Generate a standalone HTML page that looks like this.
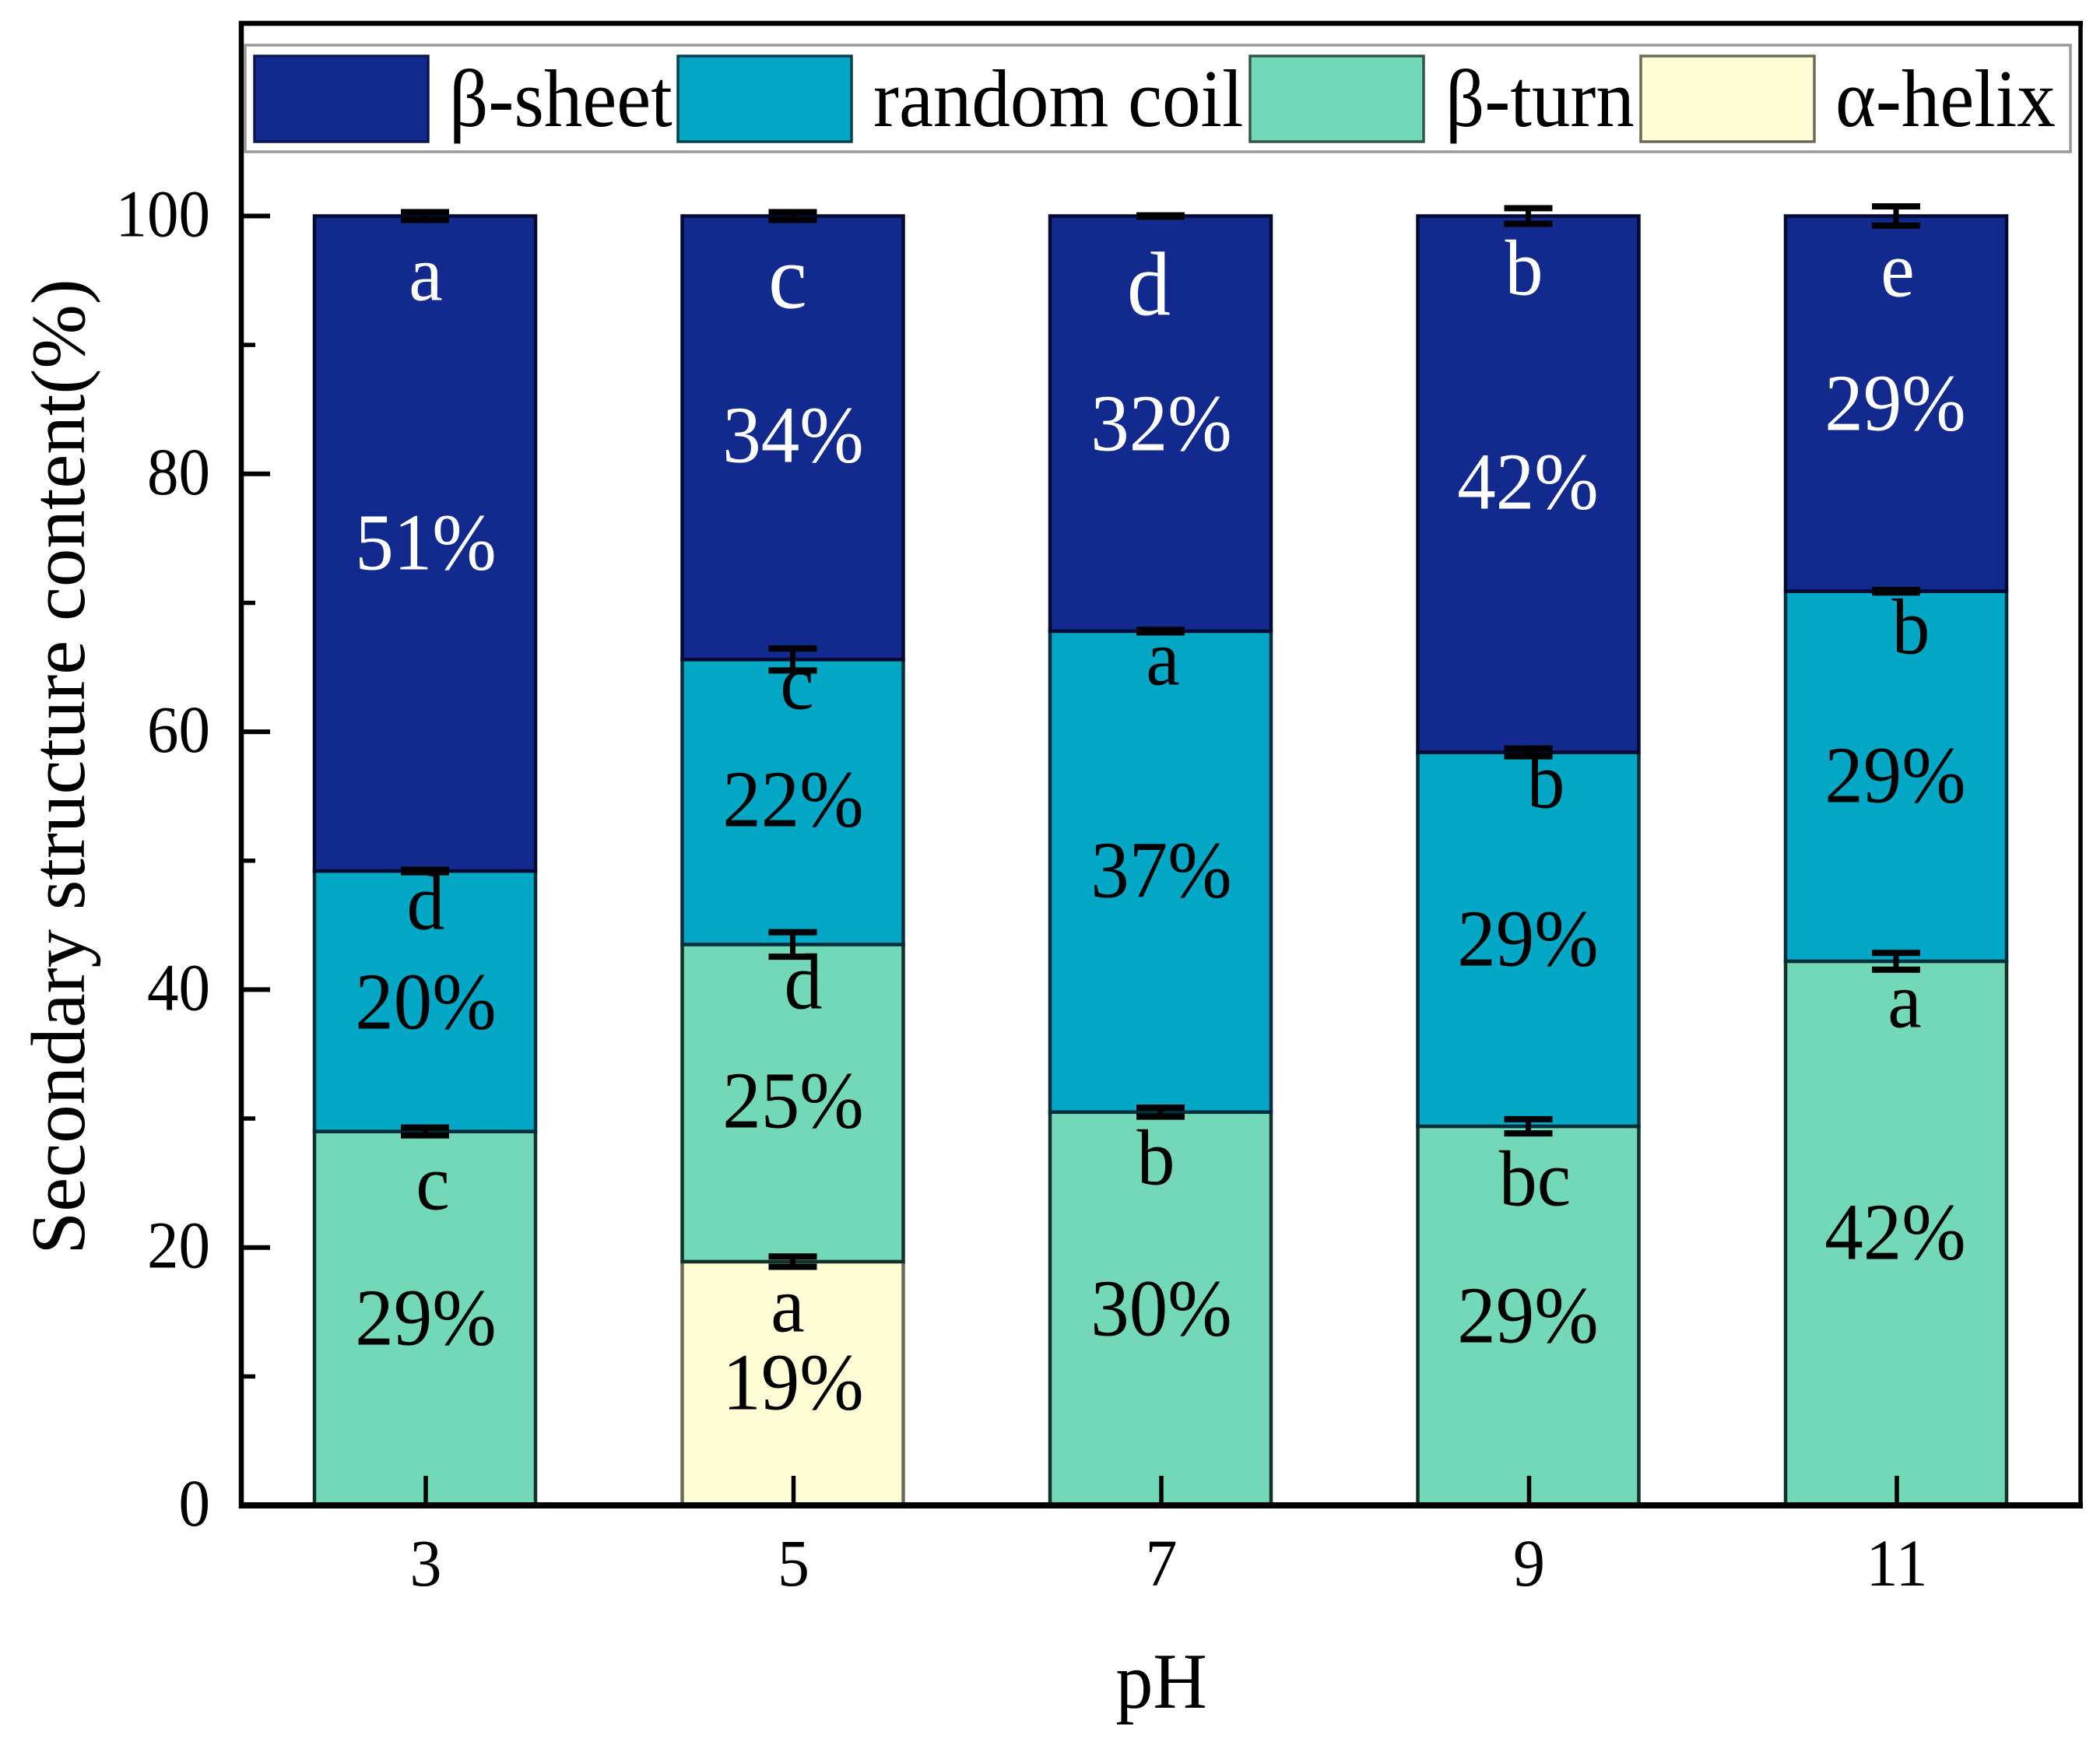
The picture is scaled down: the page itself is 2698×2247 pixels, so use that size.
<!DOCTYPE html>
<html lang="en">
<head>
<meta charset="utf-8">
<title>Secondary structure content by pH</title>
<style>
html,body{margin:0;padding:0;background:#fff;}
svg{display:block;}
text{font-family:"Liberation Serif",serif;fill:#000;}
.pct{font-size:99px;text-anchor:middle;transform-box:fill-box;transform-origin:center;transform:translateY(-5px) scaleY(1.05);}
.let{font-size:98px;text-anchor:middle;transform-box:fill-box;transform-origin:center;transform:translateY(-3px) scaleY(1.04);}
.white{fill:#fff;}
.leg{font-size:99px;}
</style>
</head>
<body>
<svg id="chart" xmlns="http://www.w3.org/2000/svg" width="2698" height="2247" viewBox="0 0 2698 2247">
  <rect x="0" y="0" width="2698" height="2247" fill="#fff"/>
  <g id="bars"></g>
  <g id="ticks"></g>
  <g id="errors"></g>

  <g stroke="#000">
    <line x1="307" x2="2676" y1="30" y2="30" stroke-width="6.5"/>
    <line x1="2673" x2="2673" y1="27" y2="1938" stroke-width="5.5"/>
    <line x1="310" x2="310" y1="27" y2="1938" stroke-width="6.5"/>
    <line x1="307" x2="2676" y1="1934" y2="1934" stroke-width="8"/>
  </g>

  <g>
    <rect x="315" y="58" width="2345" height="137" fill="#fff" stroke="#999" stroke-width="3.5"/>
    <g>
      <text class="leg" transform="translate(577,162) scale(1,1.06)">β-sheet</text>
      <rect x="327" y="72" width="223" height="110" fill="#122a8e" stroke="#0a1a50" stroke-width="3.5"/>
    </g>
    <g>
      <text class="leg" transform="translate(1122,162) scale(1,1.06)">random coil</text>
      <rect x="871" y="72" width="223" height="110" fill="#02a7c6" stroke="#04404e" stroke-width="3.5"/>
    </g>
    <g>
      <text class="leg" transform="translate(1857,162) scale(1,1.06)">β-turn</text>
      <rect x="1606" y="72" width="223" height="110" fill="#72d8b8" stroke="#34544a" stroke-width="3.5"/>
    </g>
    <g>
      <text class="leg" transform="translate(2358,162) scale(1,1.06)">α-helix</text>
      <rect x="2108" y="72" width="223" height="110" fill="#fefdd6" stroke="#6b6b58" stroke-width="3.5"/>
    </g>
  </g>

  <g id="tick-labels"></g>

  <text font-size="99" text-anchor="middle" transform="translate(108,985) rotate(-90)">Secondary structure content(%)</text>
  <text font-size="96" text-anchor="middle" transform="translate(1492,2194) scale(1,1.06)">pH</text>

  <g>
    <text class="pct white" x="547" y="735">51%</text>
    <text class="pct" x="547" y="1325">20%</text>
    <text class="pct" x="547" y="1731">29%</text>
    <text class="pct white" x="1019" y="597">34%</text>
    <text class="pct" x="1019" y="1065">22%</text>
    <text class="pct" x="1019" y="1452">25%</text>
    <text class="pct" x="1019" y="1814">19%</text>
    <text class="pct white" x="1492" y="582">32%</text>
    <text class="pct" x="1492" y="1156">37%</text>
    <text class="pct" x="1492" y="1719">30%</text>
    <text class="pct white" x="1963" y="657">42%</text>
    <text class="pct" x="1963" y="1244">29%</text>
    <text class="pct" x="1963" y="1728">29%</text>
    <text class="pct white" x="2435" y="556">29%</text>
    <text class="pct" x="2435" y="1034">29%</text>
    <text class="pct" x="2435" y="1621">42%</text>
  </g>

  <g>
    <text class="let white" x="547" y="387">a</text>
    <text class="let" x="547" y="1195">d</text>
    <text class="let" x="556" y="1555">c</text>
    <text class="let white" style="font-size:112px" x="1012" y="397">c</text>
    <text class="let" x="1024" y="912">c</text>
    <text class="let" x="1032" y="1297">d</text>
    <text class="let" x="1012" y="1712">a</text>
    <text class="let white" style="font-size:112px" x="1476" y="406">d</text>
    <text class="let" x="1494" y="881">a</text>
    <text class="let" x="1485" y="1523">b</text>
    <text class="let white" x="1958" y="380">b</text>
    <text class="let" x="1986" y="1039">b</text>
    <text class="let" x="1972" y="1550">bc</text>
    <text class="let white" x="2438" y="382">e</text>
    <text class="let" x="2455" y="841">b</text>
    <text class="let" x="2447" y="1321">a</text>
  </g>
</svg>

<script>
// Chart data
const categories = ['3', '5', '7', '9', '11'];
const helixValues = [0, 18.9, 0, 0, 0];
const turnValues = [29.0, 24.6, 30.5, 29.4, 42.2];
const coilValues = [20.2, 22.1, 37.3, 29.0, 28.7];
const sheetValues = [50.8, 34.4, 32.2, 41.6, 29.1];
const helixErrors = [0, 0.4, 0, 0, 0];
const turnErrors = [0.3, 0.95, 0.35, 0.55, 0.65];
const coilErrors = [0.1, 0.85, 0.1, 0.3, 0.1];
const sheetErrors = [0.3, 0.3, 0.05, 0.6, 0.75];
const yTickLabels = ['0', '20', '40', '60', '80', '100'];
const yMinorTicks = [10, 30, 50, 70, 90];

const NS = 'http://www.w3.org/2000/svg';
const X0 = 547, XSTEP = 472.5, BAR_W = 284, CAP_W = 62, BAR_SHIFT = -1;
const Y0 = 1934, Y100 = 277.5;
function xScale(i) { return X0 + XSTEP * i; }
function yScale(v) { return Y0 + (Y100 - Y0) * v / 100; }

function make(tag, parent) {
  const el = document.createElementNS(NS, tag);
  parent.appendChild(el);
  return el;
}
function setAll(el, pairs) {
  for (const k in pairs) el.setAttribute(k, pairs[k]);
}

const barsLayer = document.getElementById('bars');
const errorsLayer = document.getElementById('errors');
const ticksLayer = document.getElementById('ticks');
const labelsLayer = document.getElementById('tick-labels');

function drawSeries(name, values, errors, fill, stroke, baseline) {
  values.forEach(function (v, i) {
    if (v <= 0) return;
    const lo = baseline[i];
    const hi = lo + v;
    baseline[i] = hi;
    const cx = xScale(i) + BAR_SHIFT;
    const rect = make('rect', barsLayer);
    
    
    setAll(rect, {
      x: cx - BAR_W / 2,
      y: yScale(hi),
      width: BAR_W,
      height: yScale(lo) - yScale(hi),
      fill: fill,
      stroke: stroke,
      'stroke-width': 4.5
    });
    const e = errors[i];
    const stem = make('line', errorsLayer);
    
    
    setAll(stem, { x1: cx, x2: cx, y1: yScale(hi + e), y2: yScale(hi - e), stroke: '#000', 'stroke-width': 7 });
    const capTop = make('line', errorsLayer);
    
    
    setAll(capTop, { x1: cx - CAP_W / 2, x2: cx + CAP_W / 2, y1: yScale(hi + e), y2: yScale(hi + e), stroke: '#000', 'stroke-width': 8 });
    const capBottom = make('line', errorsLayer);
    
    
    setAll(capBottom, { x1: cx - CAP_W / 2, x2: cx + CAP_W / 2, y1: yScale(hi - e), y2: yScale(hi - e), stroke: '#000', 'stroke-width': 8 });
  });
}

const stackBase = categories.map(function () { return 0; });
drawSeries('alpha-helix', helixValues, helixErrors, '#fefdd6', '#6b6b58', stackBase);
drawSeries('beta-turn', turnValues, turnErrors, '#72d8b8', '#14302a', stackBase);
drawSeries('random-coil', coilValues, coilErrors, '#02a7c6', '#022d3a', stackBase);
drawSeries('beta-sheet', sheetValues, sheetErrors, '#122a8e', '#050a30', stackBase);

// X axis ticks and labels
categories.forEach(function (c, i) {
  const t = make('line', ticksLayer);
  
  
  setAll(t, { x1: xScale(i), x2: xScale(i), y1: Y0, y2: Y0 - 38, stroke: '#000', 'stroke-width': 5.5 });
  const lab = make('text', labelsLayer);
  
  
  setAll(lab, { 'font-size': 82, 'text-anchor': 'middle', transform: 'translate(' + xScale(i) + ',2037) scale(1,1.05)' });
  lab.textContent = c;
});

// Y axis ticks and labels
yTickLabels.forEach(function (s) {
  const v = Number(s);
  const t = make('line', ticksLayer);
  
  
  setAll(t, { x1: 310, x2: 347, y1: yScale(v), y2: yScale(v), stroke: '#000', 'stroke-width': 6 });
  const lab = make('text', labelsLayer);
  
  
  setAll(lab, { 'font-size': 81, 'text-anchor': 'end', transform: 'translate(270,' + (yScale(v) + 26) + ') scale(1,1.06)' });
  lab.textContent = s;
});
yMinorTicks.forEach(function (v) {
  const t = make('line', ticksLayer);
  
  
  setAll(t, { x1: 310, x2: 328, y1: yScale(v), y2: yScale(v), stroke: '#000', 'stroke-width': 5.5 });
});
</script>
</body>
</html>
